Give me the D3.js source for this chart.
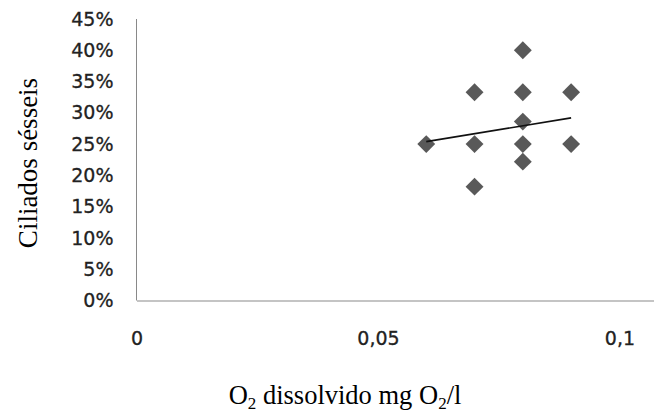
<!DOCTYPE html>
<html>
<head>
<meta charset="utf-8">
<script src="https://cdn.jsdelivr.net/npm/d3@7"></script>
<style>
  body { margin: 0; background: #fff; }
</style>
</head>
<body>
<div id="chart"></div>
<script>
// dissolved O2 (mg O2/l) and share of sessile ciliates
var oxygen = [0.06, 0.07, 0.07, 0.07, 0.08, 0.08, 0.08, 0.08, 0.08, 0.09, 0.09];
var ciliates = [0.25, 0.333, 0.25, 0.182, 0.40, 0.333, 0.286, 0.25, 0.222, 0.333, 0.25];

// linear trend line
var trendX = [0.06, 0.09];
var trendY = [0.254, 0.292];

var xTicks = [0, 0.05, 0.1];
var yTicks = [0, 0.05, 0.10, 0.15, 0.20, 0.25, 0.30, 0.35, 0.40, 0.45];

var width = 654, height = 418;

var svg = d3.select("#chart")
  .append("svg")
  .attr("width", width)
  .attr("height", height);

// plot area runs past the right edge, as in the original crop
var x = d3.scaleLinear()
  .domain([0, 0.12])
  .range([136.5, 716]);

var y = d3.scaleLinear()
  .domain([0, 0.45])
  .range([300.5, 19]);

var axisColor = "#898989";

// y axis
var yAxis = svg.append("g")
  .attr("transform", "translate(" + x(0) + ",0)")
  .call(d3.axisLeft(y).tickValues(yTicks).tickSize(0).tickPadding(23)
    .tickFormat(function (d) { return Math.round(d * 100) + "%"; }));
yAxis.select(".domain").attr("stroke", axisColor).attr("d", "M0," + y(0.45) + "V" + y(0));

// x axis
var xAxis = svg.append("g")
  .attr("transform", "translate(0," + y(0) + ")")
  .call(d3.axisBottom(x).tickValues(xTicks).tickSize(0).tickPadding(31)
    .tickFormat(function (d) { return String(d).replace(".", ","); }));
xAxis.select(".domain").attr("stroke", axisColor);

svg.selectAll(".tick text")
  .attr("font-family", "DejaVu Sans, sans-serif")
  .attr("font-size", 19)
  .attr("fill", "#222")
  .attr("stroke", "#222")
  .attr("stroke-width", 0.3);

// points
svg.selectAll(".pt")
  .data(oxygen)
  .enter()
  .append("path")
  .attr("class", "pt")
  .attr("d", d3.symbol().type(d3.symbolSquare).size(160))
  .attr("transform", function (d, i) {
    return "translate(" + x(d) + "," + y(ciliates[i]) + ") rotate(45)";
  })
  .attr("fill", "#595959");

// trend line
var line = d3.line()
  .x(function (d) { return x(d); })
  .y(function (d, i) { return y(trendY[i]); });

svg.append("path")
  .datum(trendX)
  .attr("d", line)
  .attr("fill", "none")
  .attr("stroke", "#111")
  .attr("stroke-width", 1.6);

// axis titles
svg.append("text")
  .attr("transform", "translate(37,163) rotate(-90)")
  .attr("text-anchor", "middle")
  .attr("font-family", "Liberation Serif, serif")
  .attr("font-size", 27)
  .attr("fill", "#000")
  .text("Ciliados sésseis");

var xTitle = svg.append("text")
  .attr("x", 345)
  .attr("y", 404)
  .attr("text-anchor", "middle")
  .attr("font-family", "Liberation Serif, serif")
  .attr("font-size", 26.5)
  .attr("fill", "#000");
xTitle.append("tspan").text("O");
xTitle.append("tspan").attr("font-size", 17).attr("dy", 5).text("2");
xTitle.append("tspan").attr("dy", -5).text(" dissolvido mg O");
xTitle.append("tspan").attr("font-size", 17).attr("dy", 5).text("2");
xTitle.append("tspan").attr("dy", -5).text("/l");
</script>
</body>
</html>
